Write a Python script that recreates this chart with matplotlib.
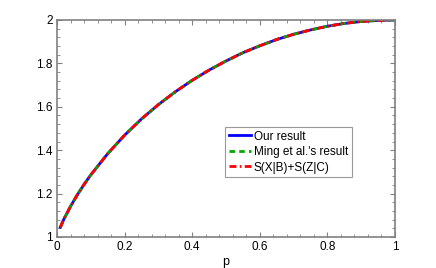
"""
Entropic uncertainty comparison: our result vs Ming et al. vs S(X|B)+S(Z|C).
"""

import matplotlib.pyplot as plt
from matplotlib.ticker import MultipleLocator

plt.rcParams['font.family'] = ['Liberation Sans', 'DejaVu Sans']

# Data
p = [0.01, 0.02, 0.04, 0.06, 0.08, 0.10, 0.15, 0.20, 0.25, 0.30, 0.35,
     0.40, 0.45, 0.50, 0.55, 0.60, 0.65, 0.70, 0.75, 0.80, 0.85, 0.90,
     0.95, 1.00]
our_result = [1.045, 1.081, 1.141, 1.194, 1.242, 1.286, 1.384, 1.469,
              1.544, 1.610, 1.669, 1.722, 1.769, 1.811, 1.849, 1.881,
              1.910, 1.934, 1.954, 1.971, 1.984, 1.993, 1.998, 2.000]
ming_result = list(our_result)
sxb_szc = list(our_result)

xticks = [0, 0.2, 0.4, 0.6, 0.8, 1]
xticklabels = ['0', '0.2', '0.4', '0.6', '0.8', '1']
yticks = [1, 1.2, 1.4, 1.6, 1.8, 2]
yticklabels = ['1', '1.2', '1.4', '1.6', '1.8', '2']

fig = plt.figure(figsize=(4.36, 2.68), dpi=100)
ax = fig.add_axes([0.1307, 0.1157, 0.7753, 0.8098])

ax.plot(p, our_result, color='#0000ff', lw=2, label='Our result')
ax.plot(p, ming_result, color='#00a800', lw=2, dashes=(2, 1.5),
        label="Ming et al.'s result")
ax.plot(p, sxb_szc, color='#ff0000', lw=2, dashes=(2.5, 1.2, 0.6, 1.2),
        label='S(X|B)+S(Z|C)')

ax.set_xlim(0, 1)
ax.set_ylim(1, 2)
ax.set_xticks(xticks)
ax.set_xticklabels(xticklabels)
ax.set_yticks(yticks)
ax.set_yticklabels(yticklabels)
ax.xaxis.set_minor_locator(MultipleLocator(0.04))
ax.yaxis.set_minor_locator(MultipleLocator(0.04))
ax.tick_params(which='both', direction='in', top=True, right=True,
               color='#808080', labelsize=8.5, pad=3)
ax.tick_params(which='major', length=3.5, width=0.8)
ax.tick_params(which='minor', length=2, width=0.6)
for s in ax.spines.values():
    s.set_color('#808080')
    s.set_linewidth(1.2)

ax.set_xlabel('p', fontsize=9, labelpad=2)

leg = ax.legend(loc='upper left', bbox_to_anchor=(0.497, 0.507),
                borderaxespad=0, fontsize=8.5, frameon=True, fancybox=False,
                handlelength=1.9, handletextpad=0.25, borderpad=0.3,
                labelspacing=0.3)
leg.get_frame().set_edgecolor('#808080')
leg.get_frame().set_linewidth(0.8)

plt.savefig('out.png', dpi=100)
plt.close()
